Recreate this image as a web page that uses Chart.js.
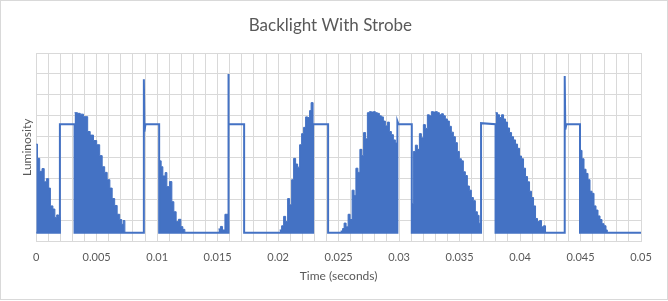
<!DOCTYPE html>
<html><head><meta charset="utf-8">
<script src="https://cdn.jsdelivr.net/npm/chart.js@4.4.1/dist/chart.umd.min.js"></script>
<style>
html,body{margin:0;padding:0;background:#fff;}
#wrap{position:relative;width:668px;height:301px;}
#frame{position:absolute;left:0;top:0;width:668px;height:300px;border:1px solid #d9d9d9;box-sizing:border-box;pointer-events:none;}
canvas{position:absolute;left:0;top:0;}
</style></head><body>
<div id="wrap"><canvas id="c" width="668" height="301"></canvas><div id="frame"></div></div>
<script>
// ---- data (time in ms, luminosity in arbitrary units) ----
const BASE = 0.42;
const xTickLabels = ['0','0.005','0.01','0.015','0.02','0.025','0.03','0.035','0.04','0.045','0.05'];

// PWM bursts: start time of each pulse and its luminosity
const burstA_t = [0, 0.107, 0.289, 0.479, 0.661, 0.843, 1.033, 1.174, 1.380, 1.545, 1.694, 1.843, 1.959];
const burstA_y = [4.65, 3.97, 3.35, 3.48, 2.85, 3.00, 2.55, 1.70, 1.55, 1.15, 1.27, 1.18, 0.42];
const burstB_t = [3.170, 3.413, 3.636, 3.909, 4.256, 4.463, 4.736, 5.000, 5.248, 5.455, 5.661, 5.868, 6.091, 6.281, 6.488, 6.694, 6.901, 7.066, 7.190, 7.331];
const burstB_y = [6.15, 6.12, 6.08, 5.96, 5.25, 5.08, 4.82, 4.62, 4.10, 3.57, 3.30, 2.95, 2.55, 2.05, 1.72, 1.30, 1.05, 0.82, 1.00, 0.42];
const burstC_t = [10.165, 10.331, 10.471, 10.661, 10.802, 11.017, 11.215, 11.380, 11.570, 11.760, 11.959, 12.124, 12.289];
const burstC_y = [3.85, 3.57, 3.13, 3.29, 2.62, 2.86, 1.90, 1.42, 0.95, 1.06, 0.71, 0.58, 0.42];
const burstD_t = [15.066, 15.231, 15.397, 15.603, 15.851];
const burstD_y = [0.60, 0.72, 0.55, 1.30, 0.42];
const burstE_t = [20.124, 20.289, 20.455, 20.620, 20.785, 20.950, 21.116, 21.281, 21.446, 21.612, 21.777, 21.942, 22.107, 22.273, 22.438, 22.603, 22.727, 22.893];
const burstE_y = [0.55, 0.75, 1.20, 0.95, 2.05, 1.75, 2.95, 3.97, 3.70, 3.55, 4.62, 5.15, 5.45, 5.95, 5.92, 6.25, 6.63, 0.42];
const burstF_t = [25.165, 25.331, 25.455, 25.620, 25.785, 25.950, 26.116, 26.281, 26.430, 26.595, 26.760, 26.926, 27.066, 27.231, 27.380, 27.545, 27.711, 27.876, 28.041, 28.207, 28.372, 28.537, 28.702, 28.868, 29.033, 29.198, 29.364, 29.529, 29.694, 29.860];
const burstF_y = [0.50, 0.62, 0.88, 0.70, 1.30, 1.05, 2.45, 2.20, 3.50, 3.30, 4.40, 4.10, 5.20, 4.90, 6.15, 6.20, 6.18, 6.20, 6.15, 6.12, 6.00, 5.95, 5.75, 5.52, 5.70, 5.25, 5.10, 4.85, 4.70, 0.42];
const burstG_t = [31.050, 31.182, 31.347, 31.512, 31.678, 31.843, 32.008, 32.174, 32.339, 32.504, 32.669, 32.835, 33.000, 33.165, 33.331, 33.496, 33.661, 33.826, 33.992, 34.157, 34.322, 34.488, 34.653, 34.818, 34.983, 35.149, 35.314, 35.479, 35.645, 35.810, 35.975, 36.140, 36.306, 36.471, 36.612, 36.777];
const burstG_y = [1.80, 4.30, 4.60, 4.40, 5.15, 4.95, 5.58, 5.40, 6.05, 6.00, 6.20, 6.18, 6.20, 6.15, 6.05, 6.10, 6.00, 5.85, 5.75, 5.50, 5.22, 5.00, 4.72, 4.30, 3.95, 3.85, 3.33, 3.15, 2.65, 2.45, 2.10, 1.95, 1.42, 1.25, 0.87, 0.42];
const burstH_t = [37.975, 38.140, 38.306, 38.471, 38.636, 38.802, 38.967, 39.132, 39.298, 39.463, 39.628, 39.793, 39.959, 40.124, 40.289, 40.455, 40.620, 40.785, 40.950, 41.116, 41.281, 41.446, 41.612, 41.777, 41.942, 42.107];
const burstH_y = [6.15, 6.05, 5.92, 6.05, 5.85, 5.70, 5.42, 5.20, 5.00, 4.85, 4.65, 4.45, 4.08, 3.95, 3.50, 3.10, 2.85, 2.40, 2.10, 1.70, 1.10, 0.95, 1.00, 0.70, 0.75, 0.42];
const burstI_t = [44.959, 45.124, 45.289, 45.455, 45.620, 45.785, 45.950, 46.116, 46.281, 46.446, 46.612, 46.777, 46.942, 47.107, 47.215];
const burstI_y = [4.35, 3.95, 3.45, 3.25, 2.95, 2.40, 2.30, 1.70, 1.50, 1.22, 1.05, 0.85, 0.75, 0.55, 0.42];

// Strobe trace (dark level, strobe plateaus and spikes)
const traceT = [0, 1.959, 1.959, 3.170, 3.170, 8.901, 8.901, 8.950, 9.033, 10.165, 10.165, 15.868, 15.868, 15.934, 17.190, 17.190, 22.893, 22.893, 24.132, 24.132, 29.860, 29.860, 29.950, 31.050, 31.050, 36.777, 36.777, 37.975, 37.975, 43.694, 43.694, 43.744, 43.826, 44.959, 44.959, 50.0];
const traceY = [0.42, 0.42, 5.6, 5.6, 0.42, 0.42, 7.75, 5.25, 5.6, 5.6, 0.42, 0.42, 8.0, 5.6, 5.6, 0.42, 0.42, 5.6, 5.6, 0.42, 0.42, 5.75, 5.6, 5.6, 0.42, 0.42, 5.65, 5.6, 0.42, 0.42, 7.9, 5.35, 5.6, 5.6, 0.42, 0.42];

// ---- build datasets ----
const bursts = [[burstA_t, burstA_y], [burstB_t, burstB_y], [burstC_t, burstC_y], [burstD_t, burstD_y], [burstE_t, burstE_y], [burstF_t, burstF_y], [burstG_t, burstG_y], [burstH_t, burstH_y], [burstI_t, burstI_y]];
const burstData = [];
bursts.forEach(([ts, ys], i) => {
  if (i) burstData.push({x: ts[0] / 1000, y: null});
  ts.forEach((t, j) => burstData.push({x: t / 1000, y: ys[j]}));
});
const traceData = traceT.map((t, i) => ({x: t / 1000, y: traceY[i]}));

const BLUE = '#4472C4';
const GRID = '#d9d9d9';
const TXT = '#595959';
Chart.defaults.font.family = 'Lato, "Open Sans", sans-serif';

new Chart(document.getElementById('c'), {
  type: 'line',
  data: {
    datasets: [
      {label: 'Strobe', data: traceData, borderColor: BLUE, borderWidth: 2, pointRadius: 0, fill: false, tension: 0, borderJoinStyle: 'miter'},
      {label: 'PWM', data: burstData, stepped: true, borderColor: BLUE, backgroundColor: BLUE, borderWidth: 1, pointRadius: 0, spanGaps: false, fill: {value: BASE}}
    ]
  },
  options: {
    responsive: false, animation: false, devicePixelRatio: 1,
    layout: {padding: {left: 19.8, right: 27, top: 0, bottom: 16.7}},
    plugins: {
      legend: {display: false}, tooltip: {enabled: false},
      title: {display: true, text: 'Backlight With Strobe', color: TXT, font: {size: 17, weight: 'normal'}, padding: {top: 15.8, bottom: 16.8}}
    },
    scales: {
      x: {
        type: 'linear', min: 0, max: 0.05,
        grid: {color: GRID, drawTicks: false},
        border: {color: GRID},
        ticks: {
          stepSize: 0.001, autoSkip: false, maxRotation: 0, minRotation: 0, padding: 9,
          color: TXT, font: {size: 11},
          callback: v => { const k = Math.round(v * 1000); return k % 5 === 0 ? xTickLabels[k / 5] : ''; }
        },
        title: {display: true, text: 'Time (seconds)', color: TXT, font: {size: 12}, padding: {top: -3.8, bottom: 1}}
      },
      y: {
        min: 0, max: 9,
        grid: {color: GRID, drawTicks: false},
        border: {display: false},
        ticks: {display: false, stepSize: 1},
        title: {display: true, text: 'Luminosity', color: TXT, font: {size: 12}, padding: {top: 0, bottom: 2}}
      }
    }
  }
});
</script>
</body></html>
